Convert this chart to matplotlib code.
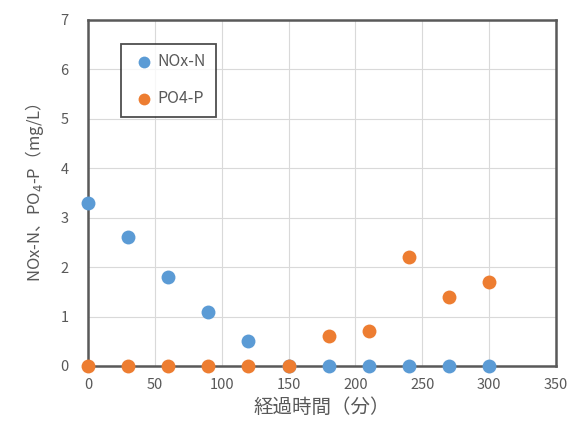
import numpy as np
import matplotlib.pyplot as plt

plt.rcParams['font.family'] = ['Noto Sans CJK JP', 'DejaVu Sans']

# 経過時間（分）
t_nox = [0, 30, 60, 90, 120, 150, 180, 210, 240, 270, 300]
nox_n = [3.3, 2.6, 1.8, 1.1, 0.5, 0.0, 0.0, 0.0, 0.0, 0.0, 0.0]

t_po4 = [0, 30, 60, 90, 120, 150, 180, 210, 240, 270, 300]
po4_p = [0.0, 0.0, 0.0, 0.0, 0.0, 0.0, 0.6, 0.7, 2.2, 1.4, 1.7]

x_ticks = [0, 50, 100, 150, 200, 250, 300, 350]
y_ticks = [0, 1, 2, 3, 4, 5, 6, 7]

blue = "#5B9BD5"
orange = "#ED7D31"
gray = "#595959"

fig = plt.figure(figsize=(5.73, 4.34), dpi=100)
ax = fig.add_axes([0.1536, 0.1567, 0.8167, 0.7973])

ax.scatter(t_nox, nox_n, s=100, color=blue, label="NOx-N", zorder=3,
           linewidths=0, clip_on=False)
ax.scatter(t_po4, po4_p, s=100, color=orange, label="PO4-P", zorder=3,
           linewidths=0, clip_on=False)

ax.set_xlim(0, 350)
ax.set_ylim(0, 7)
ax.set_xticks(x_ticks)
ax.set_yticks(y_ticks)
ax.grid(True, color="#D9D9D9", linewidth=0.8)
ax.set_axisbelow(True)

for s in ax.spines.values():
    s.set_color("#595959")
    s.set_linewidth(1.8)

ax.tick_params(length=0, colors=gray, labelsize=10.5)
ax.tick_params(axis="y", pad=14)
ax.tick_params(axis="x", pad=9)

ax.set_xlabel("経過時間（分）", fontsize=14, color=gray, labelpad=3)
ax.set_ylabel("NOx-N、PO$_4$-P（mg/L）", fontsize=12, color=gray, labelpad=10)

leg = ax.legend(loc="upper left", bbox_to_anchor=(0.211, 0.899),
                bbox_transform=fig.transFigure, frameon=True, fancybox=False,
                fontsize=11.5, labelspacing=1.25, handletextpad=0.0,
                handlelength=1.7, borderpad=0.6, borderaxespad=0,
                markerscale=0.85, labelcolor=gray)
leg.get_frame().set_edgecolor("#222222")
leg.get_frame().set_linewidth(1.3)

fig.savefig("out.png", dpi=100)
